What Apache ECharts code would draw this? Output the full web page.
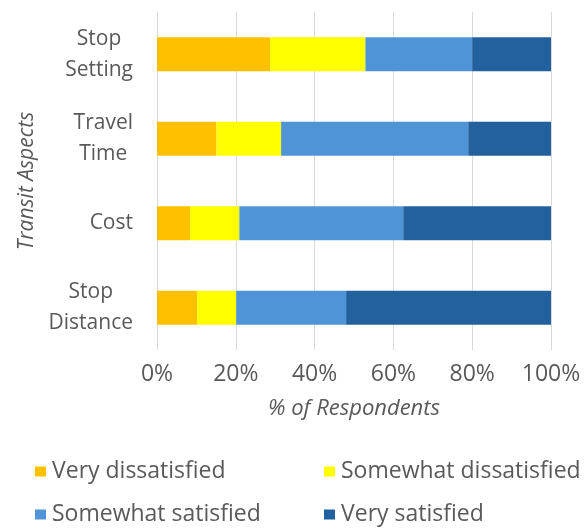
<!DOCTYPE html>
<html>
<head>
<meta charset="utf-8">
<style>
  html, body { margin: 0; padding: 0; background: #fff; }
  #chart { width: 587px; height: 529px; }
</style>
<script src="https://cdn.jsdelivr.net/npm/echarts@6/dist/echarts.min.js"></script>
</head>
<body>
<div id="chart"></div>
<script>
// categories listed bottom to top (category axis on y runs upward)
const aspects = ["Stop\nDistance", "Cost", "Travel\nTime", "Stop\nSetting"];
const levels = ["Very dissatisfied", "Somewhat dissatisfied", "Somewhat satisfied", "Very satisfied"];
const veryDissatisfied = [10.2, 8.4, 15.1, 28.7];
const somewhatDissatisfied = [9.9, 12.5, 16.4, 24.2];
const somewhatSatisfied = [27.9, 41.6, 47.5, 27.1];
const verySatisfied = [52.0, 37.5, 21.0, 20.0];
const xTicks = [0, 20, 40, 60, 80, 100];

const colors = ["#FFC000", "#FFFF00", "#5094D8", "#22609E"];
const textColor = "#595959";
const font = "Open Sans";

const chart = echarts.init(document.getElementById("chart"));

const seriesData = [veryDissatisfied, somewhatDissatisfied, somewhatSatisfied, verySatisfied];

// one legend per item so the two columns line up
const legendPos = [
  { left: 35, top: 460 },
  { left: 324, top: 460 },
  { left: 35, top: 503 },
  { left: 324, top: 503 },
];

chart.setOption({
  animation: false,
  textStyle: { fontFamily: font },
  grid: { left: 157, right: 36, top: 12, bottom: 179 },
  xAxis: {
    type: "value",
    min: xTicks[0],
    max: xTicks[xTicks.length - 1],
    interval: 20,
    axisLine: { show: false },
    axisTick: { show: false },
    splitLine: { lineStyle: { color: "#d9d9d9", width: 1 } },
    axisLabel: {
      color: textColor,
      fontSize: 23,
      margin: 13,
      formatter: (v) => v + "%",
    },
    name: "% of Respondents",
    nameLocation: "middle",
    nameGap: 48,
    nameTextStyle: { color: textColor, fontSize: 22, fontStyle: "italic" },
  },
  yAxis: {
    type: "category",
    data: aspects,
    axisLine: { show: false },
    axisTick: { show: false },
    axisLabel: {
      color: textColor,
      fontSize: 21,
      margin: 24,
      align: "right",
      lineHeight: 31,
      formatter: (v) => v.split("\n").map((s) => "{c|" + s + "}").join("\n"),
      rich: { c: { align: "center", fontSize: 21, lineHeight: 31, color: textColor } },
    },
    name: "Transit Aspects",
    nameLocation: "middle",
    nameGap: 116,
    nameTextStyle: { color: textColor, fontSize: 21, fontStyle: "italic" },
  },
  legend: levels.map((name, i) => ({
    data: [name],
    left: legendPos[i].left,
    top: legendPos[i].top,
    icon: "rect",
    itemWidth: 11,
    itemHeight: 10,
    itemGap: 0,
    padding: 0,
    selectedMode: false,
    textStyle: { color: textColor, fontSize: 23, padding: [0, 0, 0, 1] },
  })),
  series: levels.map((name, i) => ({
    name,
    type: "bar",
    stack: "total",
    barWidth: "40%",
    itemStyle: { color: colors[i] },
    data: seriesData[i],
  })),
});
</script>
</body>
</html>
